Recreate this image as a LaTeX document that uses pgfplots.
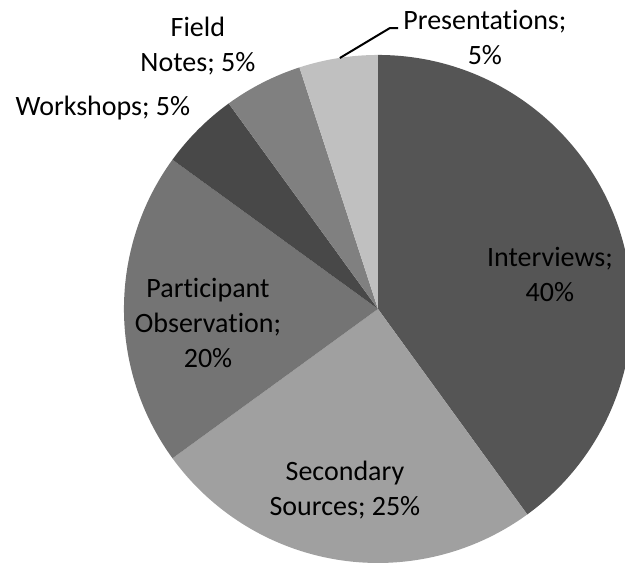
\documentclass[border=0pt]{standalone}
\usepackage{pgfplots}
\pgfplotsset{compat=1.18}
\usepackage{fontspec}
\setmainfont{Carlito}[Ligatures={NoCommon}]
\definecolor{cInt}{HTML}{555555}
\definecolor{cSec}{HTML}{A0A0A0}
\definecolor{cPar}{HTML}{747474}
\definecolor{cWor}{HTML}{484848}
\definecolor{cFie}{HTML}{808080}
\definecolor{cPre}{HTML}{C0C0C0}
\tikzset{lbl/.style={align=center, font=\fontsize{28bp}{35bp}\selectfont, text=black, inner sep=0pt}}
% #1 cumulative start (%), #2 share (%), #3 colour
\newcommand{\slice}[3]{%
  \fill[#3] (axis cs:0,0) -- ++({90-3.6*#1}:254bp)
    arc[start angle={90-3.6*#1}, end angle={90-3.6*(#1+#2)}, radius=254bp] -- cycle;}
\begin{document}
\begin{tikzpicture}
\useasboundingbox (0,0) rectangle (625bp,565bp);
\begin{axis}[
  at={(0,0)}, anchor=south west,
  x=254bp, y=254bp,
  xmin=-1.488, xmax=0.972, ymin=-1.008, ymax=1.217,
  hide axis, clip=false,
]
\slice{0}{40}{cInt}
\slice{40}{25}{cSec}
\slice{65}{20}{cPar}
\slice{85}{5}{cWor}
\slice{90}{5}{cFie}
\slice{95}{5}{cPre}
\draw[line width=2bp] (axis cs:-0.150,0.988) -- (axis cs:0.047,1.106) -- (axis cs:0.079,1.106);
\node[lbl] at (axis cs:0.677,0.134) {Interviews;\\40\%};
\node[lbl] at (axis cs:-0.130,-0.713) {Secondary\\Sources; 25\%};
\node[lbl] at (axis cs:-0.669,-0.055) {Participant\\Observation;\\20\%};
\node[lbl] at (axis cs:-1.083,0.791) {Workshops; 5\%};
\node[lbl] at (axis cs:-0.709,1.035) {Field\\Notes; 5\%};
\node[lbl] at (axis cs:0.421,1.067) {Presentations;\\5\%};
\end{axis}
\end{tikzpicture}
\end{document}
